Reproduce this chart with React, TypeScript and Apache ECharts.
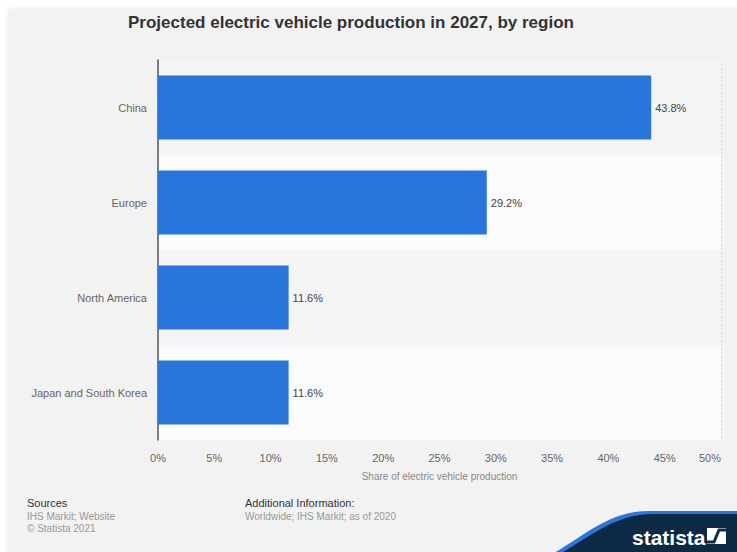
import React, { useEffect, useRef } from "react";
import * as echarts from "echarts";

const categories = ["China", "Europe", "North America", "Japan and South Korea"];
const values = [43.8, 29.2, 11.6, 11.6];
const xTicks = [0, 5, 10, 15, 20, 25, 30, 35, 40, 45, 50];
const titleText = "Projected electric vehicle production in 2027, by region";
const axisName = "Share of electric vehicle production";
const sourcesLines = ["IHS Markit; Website", "© Statista 2021"];
const additionalLines = ["Worldwide; IHS Markit; as of 2020"];

const FONT = "'Liberation Sans', Arial, Helvetica, sans-serif";

let registered = false;
function registerShapes() {
  if (registered) return;
  registered = true;
  echarts.graphic.registerShape(
    "logoBlue",
    echarts.graphic.extendPath("M 0 42 C 30 25, 55 0, 95 0 L 190 0 L 190 45 L 0 45 Z", {})
  );
  echarts.graphic.registerShape(
    "logoNavy",
    echarts.graphic.extendPath("M 0 45 C 32 28, 57 3, 97 3 L 190 3 L 190 45 Z", {})
  );
}

export default function App() {
  const ref = useRef<HTMLDivElement>(null);
  useEffect(() => {
    if (!ref.current) return;
    registerShapes();
    const chart = echarts.init(ref.current, undefined, { renderer: "svg" });
    const option: any = {
      animation: false,
      backgroundColor: "#ffffff",
      textStyle: { fontFamily: FONT },
      grid: { left: 158, right: 16, top: 60, bottom: 112, containLabel: false },
      xAxis: {
        type: "value",
        min: xTicks[0],
        max: xTicks[xTicks.length - 1],
        interval: xTicks[1] - xTicks[0],
        axisLine: { show: false },
        axisTick: { show: false },
        axisLabel: {
          color: "#666",
          fontSize: 11,
          fontFamily: FONT,
          margin: 12,
          alignMaxLabel: "right",
          formatter: (v: number) => `${v}%`,
        },
        splitLine: { show: true, lineStyle: { color: "#d9d9d9", type: [2, 2], width: 1 } },
        name: axisName,
        nameLocation: "middle",
        nameGap: 31,
        nameTextStyle: { color: "#888", fontSize: 10, fontFamily: FONT },
      },
      yAxis: {
        type: "category",
        data: categories,
        inverse: true,
        axisLine: { show: true, lineStyle: { color: "#555", width: 1.5 } },
        axisTick: { show: false },
        axisLabel: { color: "#666", fontSize: 11, fontFamily: FONT, margin: 11 },
        splitLine: { show: false },
        splitArea: { show: true, areaStyle: { color: ["#f5f5f5", "#fbfbfb"] } },
        z: 3,
      },
      series: [
        {
          type: "bar",
          data: values,
          barWidth: 64,
          itemStyle: { color: "#2876dd" },
          label: {
            show: true,
            position: "right",
            distance: 4,
            color: "#444",
            fontSize: 11,
            fontFamily: FONT,
            formatter: (p: any) => `${p.value}%`,
          },
          z: 4,
        },
      ],
      graphic: [
        {
          type: "rect",
          z: -10,
          silent: true,
          shape: { x: 9, y: 9, width: 740, height: 560 },
          style: { fill: "#f2f2f2", shadowBlur: 6, shadowColor: "rgba(0,0,0,0.12)", shadowOffsetY: 1 },
        },
        {
          type: "text",
          style: {
            text: titleText,
            x: 351,
            y: 22,
            align: "center",
            verticalAlign: "middle",
            fill: "#333",
            font: `bold 17px ${FONT}`,
          },
        },
        {
          type: "text",
          style: { text: "Sources", x: 27, y: 503, verticalAlign: "middle", fill: "#333", font: `11px ${FONT}` },
        },
        ...sourcesLines.map((t, i) => ({
          type: "text",
          style: { text: t, x: 27, y: 516 + i * 12, verticalAlign: "middle", fill: "#999", font: `10px ${FONT}` },
        })),
        {
          type: "text",
          style: { text: "Additional Information:", x: 245, y: 503, verticalAlign: "middle", fill: "#333", font: `11px ${FONT}` },
        },
        ...additionalLines.map((t, i) => ({
          type: "text",
          style: { text: t, x: 245, y: 516 + i * 12, verticalAlign: "middle", fill: "#999", font: `10px ${FONT}` },
        })),
        {
          type: "logoBlue",
          x: 554,
          y: 511,
          style: { fill: "#2a76dd" },
        },
        {
          type: "logoNavy",
          x: 556,
          y: 511,
          style: { fill: "#0d2a45" },
        },
        {
          type: "text",
          style: {
            text: "statista",
            x: 632,
            y: 537,
            verticalAlign: "middle",
            fill: "#ffffff",
            font: `bold 21px ${FONT}`,
          },
        },
        {
          type: "rect",
          shape: { x: 707, y: 528, width: 19, height: 16 },
          style: { fill: "#ffffff" },
        },
        {
          type: "polyline",
          shape: { points: [[707, 542], [714, 542], [719, 530], [726, 530]] },
          style: { stroke: "#0d2a45", lineWidth: 3, fill: "none" },
        },
      ],
    };
    chart.setOption(option);
    return () => chart.dispose();
  }, []);
  return (
    <div
      ref={ref}
      style={{ position: "fixed", left: 0, top: 0, width: 737, height: 552 }}
    />
  );
}
